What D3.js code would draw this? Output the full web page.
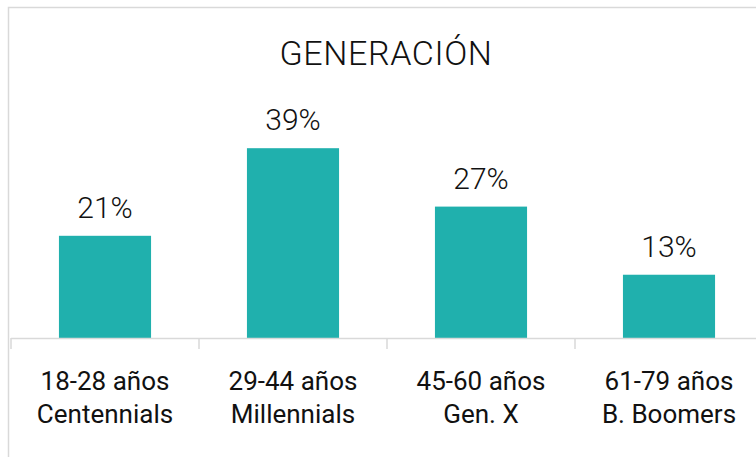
<!DOCTYPE html>
<html>
<head>
<meta charset="utf-8">
<script src="https://cdn.jsdelivr.net/npm/d3@7"></script>
<style>
  body { margin: 0; background: #fff; }
  svg { display: block; font-family: Roboto, "Noto Sans", sans-serif; }
</style>
</head>
<body>
<svg id="chart" width="756" height="457"></svg>
<script>
// generation shares
const ranges = ['18-28 años', '29-44 años', '45-60 años', '61-79 años']
const groups = ['Centennials', 'Millennials', 'Gen. X', 'B. Boomers']
const shares = [21, 39, 27, 13]

const title = 'GENERACIÓN'

const svg = d3.select('#chart')
const baseY = 338

const data = ranges.map((r, i) => ({ range: r, group: groups[i], value: shares[i] }))

// plot area runs a bit past the right edge, like the original
const x = d3.scaleBand()
    .domain(ranges)
    .range([11, 763])
    .paddingInner(0.51)
    .paddingOuter(0.255)

const y = d3.scaleLinear()
    .domain([0, 45])
    .range([baseY, 119])

// frame
svg.append('rect')
    .attr('x', 8.5).attr('y', 7.5)
    .attr('width', 800).attr('height', 500)
    .attr('fill', 'none')
    .attr('stroke', '#d9d9d9')
    .attr('stroke-width', 1.5)

svg.append('text')
    .attr('x', 386).attr('y', 65)
    .attr('text-anchor', 'middle')
    .attr('font-size', 34)
    .attr('font-weight', 300)
    .attr('letter-spacing', 0.6)
    .attr('fill', '#111')
    .text(title)

svg.append('g')
    .selectAll('rect')
    .data(data)
    .enter().append('rect')
    .attr('x', d => x(d.range))
    .attr('width', x.bandwidth())
    .attr('y', d => y(d.value))
    .attr('height', d => baseY - y(d.value))
    .attr('fill', '#20b0ad')

svg.append('g')
    .selectAll('text')
    .data(data)
    .enter().append('text')
    .attr('x', d => x(d.range) + x.bandwidth() / 2)
    .attr('y', d => y(d.value) - 18)
    .attr('text-anchor', 'middle')
    .attr('font-size', 30)
    .attr('font-weight', 300)
    .attr('fill', '#111')
    .text(d => d.value + '%')

// axis: line + separators between categories
const axisG = svg.append('g')
axisG.append('line')
    .attr('x1', 11).attr('x2', 763)
    .attr('y1', baseY + 0.5).attr('y2', baseY + 0.5)
    .attr('stroke', '#d9d9d9')
    .attr('stroke-width', 1.5)

const step = x.step()
axisG.selectAll('.sep')
    .data(d3.range(ranges.length + 1))
    .enter().append('line')
    .attr('class', 'sep')
    .attr('x1', i => 11 + i * step).attr('x2', i => 11 + i * step)
    .attr('y1', baseY).attr('y2', baseY + 11)
    .attr('stroke', '#d9d9d9')
    .attr('stroke-width', 1.5)

const labels = svg.append('g')
    .selectAll('text')
    .data(data)
    .enter().append('text')
    .attr('text-anchor', 'middle')
    .attr('font-size', 26)
    .attr('fill', '#111')

labels.append('tspan')
    .attr('x', d => x(d.range) + x.bandwidth() / 2)
    .attr('y', 390)
    .text(d => d.range)

labels.append('tspan')
    .attr('x', d => x(d.range) + x.bandwidth() / 2)
    .attr('y', 423)
    .text(d => d.group)
</script>
</body>
</html>
